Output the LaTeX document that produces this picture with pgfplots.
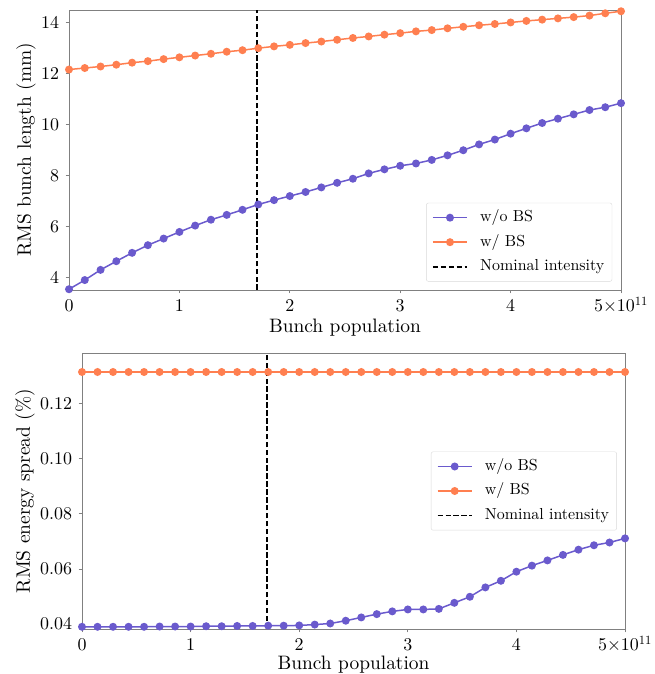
\documentclass[border=0pt]{standalone}
\usepackage{fontspec}
\setmainfont{lmroman10-regular.otf}[BoldFont=lmroman10-bold.otf, ItalicFont=lmroman10-italic.otf]
\usepackage{pgfplots}
\usepackage{pgfplotstable}
\pgfplotsset{compat=1.18}
\definecolor{cblue}{RGB}{106,90,205}
\definecolor{corange}{RGB}{255,127,80}
\definecolor{framegray}{RGB}{128,128,128}

\pgfplotstableread{
x        tb     to     bb      bo
0        3.53   12.16  0.0390  0.1315
0.142857 3.89   12.22  0.0390  0.1315
0.285714 4.29   12.28  0.0390  0.1315
0.428571 4.63   12.35  0.0390  0.1315
0.571429 4.96   12.43  0.0390  0.1315
0.714286 5.26   12.49  0.0391  0.1315
0.857143 5.52   12.57  0.0391  0.1315
1        5.78   12.64  0.0391  0.1315
1.142857 6.03   12.71  0.0392  0.1315
1.285714 6.26   12.78  0.0392  0.1315
1.428571 6.45   12.86  0.0393  0.1315
1.571429 6.65   12.92  0.0393  0.1315
1.714286 6.86   13.00  0.0394  0.1315
1.857143 7.03   13.07  0.0394  0.1315
2        7.19   13.13  0.0395  0.1315
2.142857 7.35   13.20  0.0398  0.1315
2.285714 7.53   13.26  0.0402  0.1315
2.428571 7.71   13.33  0.0412  0.1315
2.571429 7.87   13.40  0.0424  0.1315
2.714286 8.08   13.46  0.0436  0.1315
2.857143 8.24   13.53  0.0446  0.1315
3        8.38   13.59  0.0453  0.1315
3.142857 8.47   13.66  0.0453  0.1315
3.285714 8.61   13.71  0.0455  0.1315
3.428571 8.79   13.78  0.0477  0.1315
3.571429 8.99   13.84  0.0499  0.1315
3.714286 9.22   13.90  0.0533  0.1315
3.857143 9.41   13.95  0.0557  0.1315
4        9.64   14.01  0.0590  0.1315
4.142857 9.85   14.07  0.0612  0.1315
4.285714 10.06  14.12  0.0631  0.1315
4.428571 10.23  14.17  0.0651  0.1315
4.571429 10.40  14.22  0.0670  0.1315
4.714286 10.57  14.28  0.0686  0.1315
4.857143 10.68  14.37  0.0696  0.1315
5        10.84  14.45  0.0711  0.1315
}\data

\pgfplotsset{
  myaxis/.style={
    scale only axis,
    xmin=0, xmax=5,
    /pgf/number format/assume math mode=true,
    axis line style={framegray, line width=0.8bp},
    tick style={framegray, line width=0.8bp},
    tick align=outside,
    xtick pos=left, ytick pos=left,
    major tick length=3.5bp,
    tick label style={font=\fontsize{18}{21}\selectfont},
    xticklabel style={text height=11.6bp, text depth=0pt, yshift=-3bp},
    yticklabel style={xshift=-3bp},
    label style={font=\fontsize{19.5}{23}\selectfont},
    xtick={0,1,2,3,4,5},
    xticklabels={0,1,2,3,4,5×10\textsuperscript{11}},
    xlabel={Bunch population},
    legend cell align=left,
    legend style={draw=black!15, rounded corners=2bp, fill=white,
      font=\fontsize{16}{19}\selectfont, inner xsep=5.7bp, inner ysep=4.7bp, row sep=4.5bp,
      nodes={inner sep=2bp, text height=12bp, text depth=4bp}},
    legend image code/.code={%
      \draw[mark repeat=2,mark phase=2] plot coordinates {(0bp,0bp) (17bp,0bp) (34bp,0bp)};
      \path (44.3bp,0bp);},
  },
  bluel/.style={cblue, line width=1.5bp, mark=*, mark size=3.2bp, mark options={solid, fill=cblue, draw=cblue}},
  orangel/.style={corange, line width=1.5bp, mark=*, mark size=3.2bp, mark options={solid, fill=corange, draw=corange}},
  noml/.style={black, line width=1.8bp, dash pattern=on 5.5bp off 2.4bp},
}

\begin{document}
\begin{tikzpicture}[x=1bp,y=1bp]
\path[use as bounding box] (0,0) rectangle (655,674);

\begin{axis}[myaxis,
  at={(69bp,384bp)}, anchor=south west,
  width=552bp, height=280bp,
  ymin=3.5, ymax=14.5,
  ytick={4,6,8,10,12,14},
  ylabel={RMS bunch length (mm)},
  ylabel style={at={(axis description cs:-0.078,0.5)}, anchor=center},
  xlabel style={at={(axis description cs:0.5,-0.133)}, anchor=center},
  legend style={at={(0.984,0.03)}, anchor=south east},
]
\addplot[bluel] table[x=x, y=tb] {\data};
\addlegendentry{w/o BS}
\addplot[orangel] table[x=x, y=to] {\data};
\addlegendentry{w/ BS}
\addplot[noml] coordinates {(1.7,3.5) (1.7,14.5)};
\addlegendentry{Nominal intensity}
\end{axis}

\begin{axis}[myaxis,
  at={(82bp,45bp)}, anchor=south west,
  width=543bp, height=276bp,
  ymin=0.0382, ymax=0.1384,
  ytick={0.04,0.06,0.08,0.10,0.12},
  yticklabel style={/pgf/number format/fixed, /pgf/number format/fixed zerofill, /pgf/number format/precision=2},
  scaled y ticks=false,
  ylabel={RMS energy spread (\%)},
  ylabel style={at={(axis description cs:-0.105,0.5)}, anchor=center},
  xlabel style={at={(axis description cs:0.5,-0.128)}, anchor=center},
  legend style={at={(0.985,0.5)}, anchor=east},
]
\addplot[bluel] table[x=x, y=bb] {\data};
\addlegendentry{w/o BS}
\addplot[orangel] table[x=x, y=bo] {\data};
\addlegendentry{w/ BS}
\addplot[noml] coordinates {(1.7,0.0382) (1.7,0.1384)};
\addlegendentry{Nominal intensity}
\end{axis}
\end{tikzpicture}
\end{document}
